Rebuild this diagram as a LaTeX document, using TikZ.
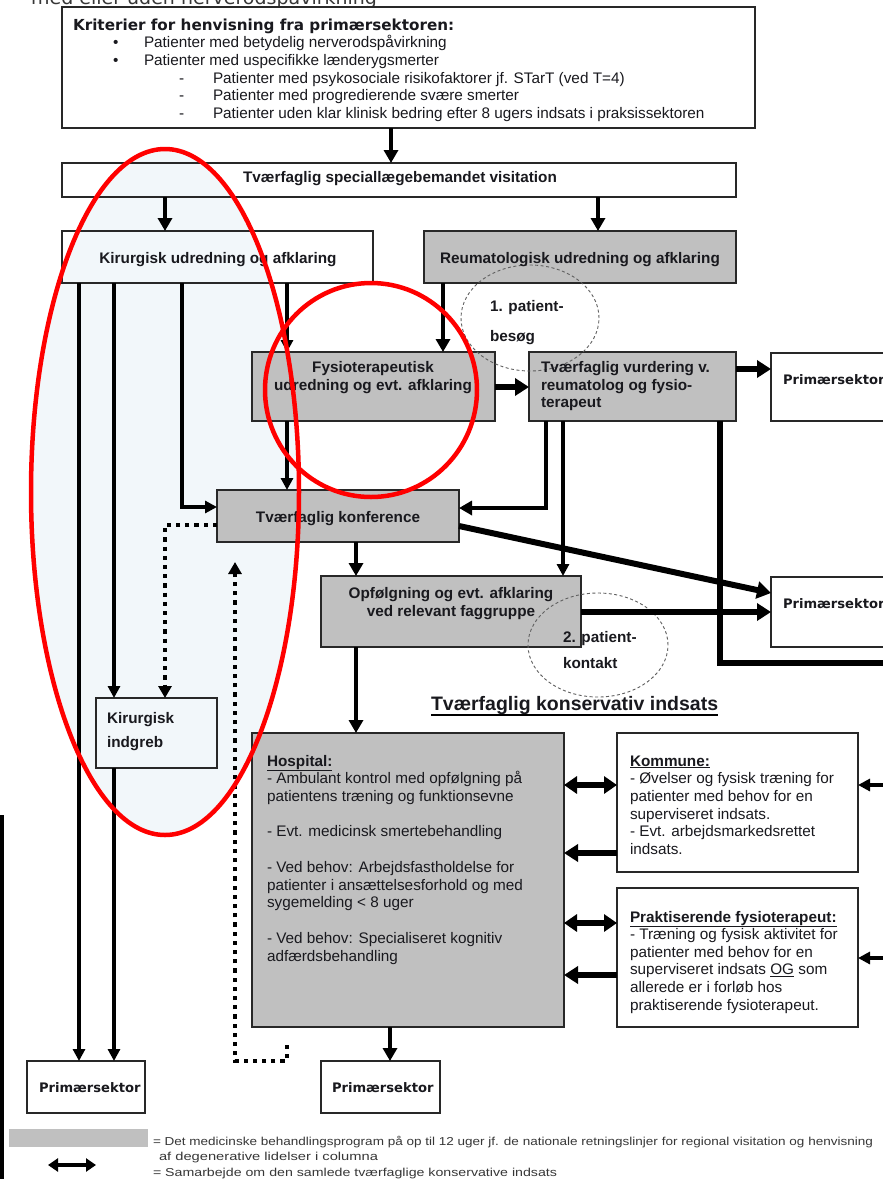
\documentclass[tikz,border=0pt]{standalone}
\usepackage{fontspec}
\usepackage{graphicx}
\setmainfont{Liberation Sans}
\newfontfamily\dvsans{DejaVu Sans}
\usetikzlibrary{arrows.meta}
\definecolor{boxgrey}{RGB}{192,192,192}
\definecolor{edge}{RGB}{40,40,40}
\definecolor{ink}{RGB}{25,25,30}
\definecolor{tint}{RGB}{242,247,250}
\definecolor{circ}{RGB}{95,95,95}
\definecolor{legink}{RGB}{55,55,55}
\newcommand\bodyf{\fontsize{15.3}{17.6}\selectfont}
\newcommand\listf{\fontsize{15.3}{17.75}\selectfont}
\newcommand\st{\rule{0pt}{12pt}}
% box by its corners: name, x1, y1, x2, y2, style
\newcommand\mkbox[6]{\node[#6, anchor=north west, minimum width={#4-#2}, minimum height={#5-#3}] (#1) at (#2,#3) {};}
\begin{document}
\begin{tikzpicture}[x=1pt, y=-1pt,
  every node/.style={inner sep=0pt, outer sep=0pt},
  wbox/.style={draw=edge, line width=1.3pt},
  gbox/.style={draw=edge, line width=1.3pt, fill=boxgrey},
  tx/.style={text=ink, font=\bodyf, align=left, anchor=north west},
  txb/.style={tx, font=\bodyf\bfseries},
  txc/.style={txb, align=center, anchor=north},
  prim/.style={text=ink, font=\dvsans\bfseries\fontsize{13.1}{15}\selectfont, anchor=base west},
  lg/.style={text=legink, font=\fontsize{11.5}{13}\selectfont, anchor=base west},
  arr/.style={line width=3.3pt, -{Triangle[length=12pt,width=12pt]}},
  arrm/.style={line width=3.9pt, -{Triangle[length=13pt,width=14pt]}},
  arrt/.style={line width=6pt, -{Triangle[length=14pt,width=17pt]}},
  dbl/.style={line width=5.5pt, {Triangle[length=13pt,width=17pt]}-{Triangle[length=13pt,width=17pt]}},
  dots/.style={line width=4.2pt, dash pattern=on 4.2pt off 5pt, -{Triangle[length=12pt,width=13pt]}},
  ring/.style={draw=circ, line width=0.9pt, dash pattern=on 3pt off 2.5pt},
  redring/.style={draw=red, line width=4.5pt}
]
\fill[white] (0,0) rectangle (883,1179);
\useasboundingbox (0,0) rectangle (883,1179);

% light tint inside the large marked region
\fill[tint] (165,492) ellipse [x radius=134pt, y radius=343pt];

% heading cut by the page edge
\node[text=legink, font=\dvsans\fontsize{19}{22}\selectfont, anchor=base east] (head) at (377,4) {med eller uden nerverodspåvirkning};

% boxes
\mkbox{top}{62}{7}{755}{128}{wbox}
\mkbox{visit}{62}{163}{736}{197}{wbox}
\mkbox{kir}{62}{231}{373}{283}{wbox}
\mkbox{reum}{424}{231}{736}{283}{gbox}
\mkbox{fys}{252}{352}{495}{421}{gbox}
\mkbox{tv}{529}{352}{736}{421}{gbox}
\mkbox{prim1}{771}{353}{900}{421}{wbox}
\mkbox{konf}{217}{490}{459}{542}{gbox}
\mkbox{opf}{321}{576}{581}{647}{gbox}
\mkbox{prim2}{771}{577}{900}{647}{wbox}
\mkbox{kind}{96}{698}{217}{768}{wbox}
\mkbox{hosp}{252}{733}{564}{1027}{gbox}
\mkbox{komm}{617}{733}{858}{872}{wbox}
\mkbox{prakt}{617}{888}{858}{1027}{wbox}
\mkbox{primA}{27}{1061}{145}{1113}{wbox}
\mkbox{primB}{321}{1061}{440}{1113}{wbox}

% dashed patient-contact rings
\draw[ring] (530,318) ellipse [x radius=69pt, y radius=53pt];
\draw[ring] (598,645) ellipse [x radius=70pt, y radius=52pt];

% free ends
\coordinate (offR) at (900,663);
\coordinate (inK) at (900,785);
\coordinate (inP) at (900,958);
\coordinate (dstart) at (287,1045);
\coordinate (dend) at (235,562);
\coordinate (lvA) at (2,815);
\coordinate (lvB) at (2,1185);

% connectors
\draw[arrm] (391,0 |- top.south) -- (391,0 |- visit.north);
\draw[arrm] (165,0 |- visit.south) -- (165,0 |- kir.north);
\draw[arrm] (598,0 |- visit.south) -- (598,0 |- reum.north);
\draw[arr] (79,0 |- kir.south) -- (79,0 |- primA.north);
\draw[arr] (114,0 |- kir.south) -- (114,0 |- kind.north);
\draw[arr] (114,0 |- kind.south) -- (114,0 |- primA.north);
\draw[arr, line width=4.6pt] (182,0 |- kir.south) |- (konf.west |- 0,507);
\draw[arr] (287,0 |- kir.south) -- (287,0 |- fys.north);
\draw[arr] (287,0 |- fys.south) -- (287,0 |- konf.north);
\draw[arrm] (443,0 |- reum.south) -- (443,0 |- fys.north);
\draw[arrt] (fys.east |- 0,387) -- (tv.west |- 0,387);
\draw[arrt] (tv.east |- 0,369) -- (prim1.west |- 0,369);
\draw[arrm] (546,0 |- tv.south) |- (konf.east |- 0,508);
\draw[arr] (563,0 |- tv.south) -- (563,0 |- opf.north);
\draw[line width=6.5pt] (720,0 |- tv.south) |- (offR);
\draw[arrt] (konf.east |- 0,526) -- (prim2.west |- 0,593);
\draw[arrm] (356,0 |- konf.south) -- (356,0 |- opf.north);
\draw[arrt] (opf.east |- 0,612) -- (prim2.west |- 0,612);
\draw[arrm, line width=4.3pt] (356,0 |- opf.south) -- (356,0 |- hosp.north);
\draw[arrm] (390,0 |- hosp.south) -- (390,0 |- primB.north);
\draw[dots] (konf.west |- 0,525) -| (165,0 |- kind.north);
\draw[dots] (dstart) |- (235,1061) -- (dend);
\draw[dbl] (hosp.east |- 0,785) -- (komm.west |- 0,785);
\draw[arrt] (komm.west |- 0,853) -- (hosp.east |- 0,853);
\draw[dbl] (hosp.east |- 0,923) -- (prakt.west |- 0,923);
\draw[arrt] (prakt.west |- 0,975) -- (hosp.east |- 0,975);
\draw[arr] (inK) -- (komm.east |- 0,785);
\draw[arr] (inP) -- (prakt.east |- 0,958);
\draw[line width=3.2pt] (lvA) -- (lvB);

% texts
\node[tx, font=\dvsans\bfseries\fontsize{15.2}{18}\selectfont] (ttl) at (73,18.5) {\st Kriterier for henvisning fra primærsektoren:};
\node[tx, font=\listf] (bul) at (113,35.5) {\st•\\•};
\node[tx, font=\listf] (crit1) at (144,35.5) {\st Patienter med betydelig nerverodspåvirkning\\Patienter med uspecifikke lænderygsmerter};
\node[tx, font=\listf] (dsh) at (179,71) {\st-\\-\\-};
\node[tx, font=\listf] (crit2) at (213,71) {\st Patienter med psykosociale risikofaktorer jf. STarT (ved T=4)\\Patienter med progredierende svære smerter\\Patienter uden klar klinisk bedring efter 8 ugers indsats i praksissektoren};
\node[txc] (visT) at (400,170.5) {\st Tværfaglig speciallægebemandet visitation};
\node[txc] (kirT) at (218,251) {\st Kirurgisk udredning og afklaring};
\node[txc] (reumT) at (580,251) {\st Reumatologisk udredning og afklaring};
\node[txb] (pb1) at (490,299.5) {\st 1. patient-\\[12.4pt]besøg};
\node[txc] (fysT) at (373,360.5) {\st Fysioterapeutisk\\udredning og evt. afklaring};
\node[txb] (tvT) at (541,360.5) {\st Tværfaglig vurdering v.\\reumatolog og fysio-\\terapeut};
\node[prim] (p1T) at (783,384) {Primærsektor};
\node[txc] (konfT) at (338,510.5) {\st Tværfaglig konference};
\node[txc, font=\fontsize{15.3}{18}\selectfont\bfseries] (opfT) at (451,586.5) {\st Opfølgning og evt. afklaring\\ved relevant faggruppe};
\node[prim] (p2T) at (783,608) {Primærsektor};
\node[txb] (pk1) at (563,630.5) {\st 2. patient-\\[8.4pt]kontakt};
\node[text=ink, font=\fontsize{19.5}{22}\selectfont\bfseries, anchor=base west] (kons) at (431,710) {Tværfaglig konservativ indsats};
\draw[line width=1.4pt] ([yshift=-5pt]kons.base west) -- ([yshift=-5pt]kons.base east);
\node[txb] (kindT) at (107,711.5) {\st Kirurgisk\\[6.4pt]indgreb};
\node[tx] (hospT) at (267,754) {\st\textbf{\underline{Hospital:}}\\- Ambulant kontrol med opfølgning på\\patientens træning og funktionsevne\\[17.5pt]- Evt. medicinsk smertebehandling\\[18.5pt]- Ved behov: Arbejdsfastholdelse for\\patienter i ansættelsesforhold og med\\sygemelding < 8 uger\\[18.5pt]- Ved behov: Specialiseret kognitiv\\adfærdsbehandling};
\node[tx, font=\fontsize{15.3}{17.7}\selectfont] (kommT) at (630,754) {\st\textbf{\underline{Kommune:}}\\- Øvelser og fysisk træning for\\patienter med behov for en\\superviseret indsats.\\- Evt. arbejdsmarkedsrettet\\indsats.};
\node[tx, font=\fontsize{15.3}{17.6}\selectfont] (praktT) at (630,910) {\st\textbf{\underline{Praktiserende fysioterapeut:}}\\- Træning og fysisk aktivitet for\\patienter med behov for en\\superviseret indsats \underline{OG} som\\allerede er i forløb hos\\praktiserende fysioterapeut.};
\node[prim] (p3T) at (39,1092) {Primærsektor};
\node[prim] (p4T) at (332,1092) {Primærsektor};

% legend
\node[fill=boxgrey, anchor=north west, minimum width=139, minimum height=18] (lgbar) at (9,1129) {};
\coordinate (lgA) at (48,1165);
\coordinate (lgB) at (96,1165);
\draw[line width=4pt, {Triangle[length=10pt,width=13pt]}-{Triangle[length=10pt,width=13pt]}] (lgA) -- (lgB);
\node[lg] (lg1) at (153,1145) {\resizebox{720pt}{\height}{= Det medicinske behandlingsprogram på op til 12 uger jf. de nationale retningslinjer for regional visitation og henvisning}};
\node[lg] (lg2) at (159,1160) {\resizebox{219pt}{\height}{af degenerative lidelser i columna}};
\node[lg] (lg3) at (153,1176) {\resizebox{404pt}{\height}{= Samarbejde om den samlede tværfaglige konservative indsats}};

% red marks drawn over everything
\draw[redring] (165,492) ellipse [x radius=134pt, y radius=343pt];
\draw[redring] (371,390) ellipse [x radius=106pt, y radius=107pt];
\end{tikzpicture}
\end{document}
